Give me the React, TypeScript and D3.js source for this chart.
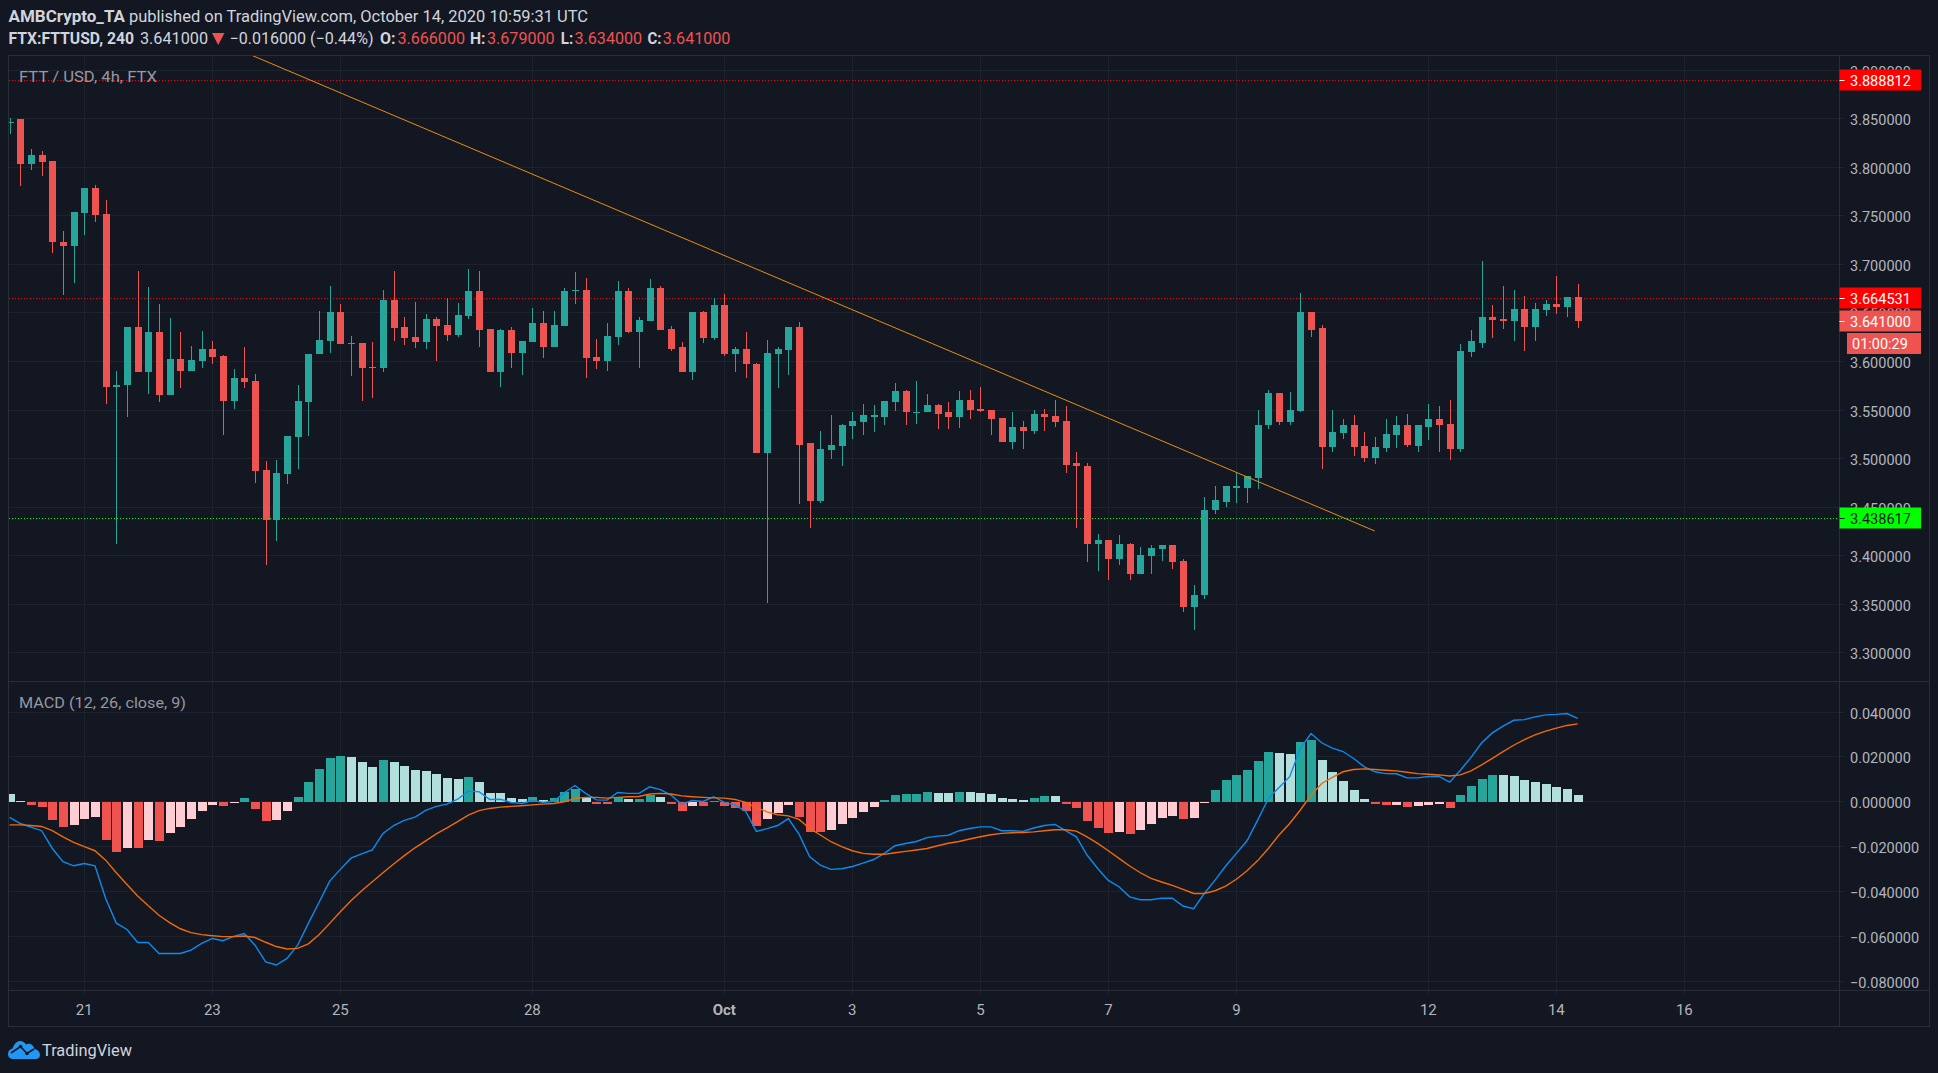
import * as d3 from 'd3';

// 4h candles, first one is Sep 19 20:00
const opens = [
  3.8449,3.8487,3.8024,3.8117,3.8055,3.7221,3.7180,3.7520,3.7777,3.7510,
  3.5737,3.5758,3.6355,3.5882,3.6303,3.5645,3.6025,3.5902,3.6005,3.6128,
  3.6056,3.5593,3.5820,3.5789,3.4873,3.4359,3.4832,3.5213,3.5583,3.6067,
  3.6211,3.6509,3.6180,3.6190,3.5943,3.5923,3.6633,3.6355,3.6252,3.6200,
  3.6437,3.6375,3.6272,3.6468,3.6725,3.6334,3.5882,3.6324,3.6087,3.6200,
  3.6396,3.6139,3.6365,3.6725,3.6735,3.6046,3.6005,3.6252,3.6725,3.6303,
  3.6416,3.6756,3.6334,3.6139,3.5882,3.6509,3.6241,3.6581,3.6067,3.6128,
  3.5974,3.5048,3.6077,3.6118,3.6355,3.5151,3.4554,3.5079,3.5130,3.5326,
  3.5377,3.5428,3.5428,3.5583,3.5696,3.5470,3.5480,3.5552,3.5470,3.5428,
  3.5603,3.5510,3.5500,3.5418,3.5171,3.5325,3.5284,3.5459,3.5438,3.5387,
  3.4945,3.4924,3.4121,3.4162,3.3957,3.4111,3.3802,3.3988,3.4060,3.4101,
  3.3936,3.3463,3.3586,3.4461,3.4553,3.4697,3.4697,3.4800,3.5336,3.5675,
  3.5377,3.5490,3.6509,3.6344,3.5119,3.5263,3.5346,3.5130,3.5006,3.5109,
  3.5243,3.5336,3.5130,3.5325,3.5408,3.5356,3.5089,3.6088,3.6190,3.6458,
  3.6437,3.6407,3.6540,3.6355,3.6530,3.6582,3.6551,3.6660,
];
const highs = [
  3.8497,3.8487,3.8178,3.8158,3.8055,3.7335,3.7530,3.7777,3.7808,3.7654,
  3.5902,3.6355,3.6931,3.6766,3.6591,3.6447,3.6303,3.6159,3.6313,3.6211,
  3.6066,3.5922,3.6149,3.5871,3.4966,3.4976,3.5223,3.5758,3.6077,3.6519,
  3.6777,3.6591,3.6262,3.6190,3.6200,3.6735,3.6931,3.6457,3.6612,3.6488,
  3.6457,3.6653,3.6602,3.6951,3.6931,3.6334,3.6334,3.6355,3.6211,3.6550,
  3.6519,3.6519,3.6756,3.6921,3.6859,3.6231,3.6396,3.6828,3.6756,3.6457,
  3.6848,3.6777,3.6365,3.6200,3.6509,3.6519,3.6653,3.6694,3.6149,3.6303,
  3.5984,3.6221,3.6149,3.6355,3.6406,3.5151,3.5284,3.5439,3.5356,3.5470,
  3.5562,3.5552,3.5593,3.5778,3.5706,3.5789,3.5665,3.5562,3.5583,3.5696,
  3.5706,3.5737,3.5500,3.5418,3.5480,3.5387,3.5500,3.5510,3.5603,3.5541,
  3.5058,3.4945,3.4214,3.4162,3.4204,3.4131,3.4090,3.4101,3.4101,3.4101,
  3.3957,3.3689,3.4605,3.4718,3.4718,3.4852,3.4821,3.5500,3.5706,3.5675,
  3.5685,3.6705,3.6509,3.6375,3.5500,3.5408,3.5449,3.5274,3.5222,3.5408,
  3.5438,3.5459,3.5346,3.5562,3.5541,3.5594,3.6180,3.6324,3.7034,3.6581,
  3.6767,3.6726,3.6674,3.6602,3.6633,3.6880,3.6664,3.6790,
];
const lows = [
  3.8333,3.7801,3.7962,3.7901,3.7108,3.6676,3.6799,3.7293,3.7431,3.5562,
  3.4112,3.5428,3.5882,3.5665,3.5583,3.5645,3.5727,3.5902,3.5933,3.5964,
  3.5243,3.5501,3.5727,3.4739,3.3895,3.4143,3.4729,3.4883,3.5223,3.6067,
  3.6087,3.6180,3.5850,3.5593,3.5614,3.5882,3.6211,3.6169,3.6138,3.6128,
  3.6005,3.6211,3.6252,3.6437,3.6149,3.5882,3.5737,3.5933,3.5861,3.6200,
  3.6036,3.6139,3.6365,3.6591,3.5830,3.5922,3.5902,3.6169,3.6293,3.5933,
  3.6416,3.6324,3.6108,3.5882,3.5809,3.6190,3.6221,3.6056,3.5882,3.5820,
  3.5048,3.3504,3.5727,3.5861,3.4523,3.4276,3.4533,3.4986,3.4914,3.5192,
  3.5243,3.5274,3.5346,3.5490,3.5336,3.5356,3.5480,3.5305,3.5305,3.5315,
  3.5398,3.5480,3.5243,3.5161,3.5099,3.5089,3.5253,3.5284,3.5325,3.4842,
  3.4276,3.3926,3.3843,3.3741,3.3895,3.3741,3.3802,3.3802,3.3946,3.3854,
  3.3421,3.3226,3.3545,3.4420,3.4492,3.4533,3.4543,3.4687,3.5305,3.5336,
  3.5336,3.5480,3.6252,3.4883,3.5058,3.5202,3.5027,3.4965,3.4944,3.5068,
  3.5109,3.5119,3.5058,3.5191,3.5068,3.4976,3.5059,3.6046,3.6129,3.6232,
  3.6334,3.6201,3.6098,3.6201,3.6468,3.6489,3.6448,3.6340,
];
const closes = [
  3.8463,3.8024,3.8117,3.8045,3.7221,3.7180,3.7530,3.7777,3.7499,3.5737,
  3.5758,3.6355,3.5882,3.6303,3.5645,3.6025,3.5902,3.6015,3.6128,3.6046,
  3.5593,3.5830,3.5779,3.4863,3.4359,3.4842,3.5223,3.5593,3.6077,3.6221,
  3.6509,3.6180,3.6190,3.5933,3.5923,3.6633,3.6344,3.6241,3.6200,3.6437,
  3.6365,3.6272,3.6478,3.6725,3.6324,3.5882,3.6324,3.6087,3.6211,3.6396,
  3.6139,3.6375,3.6725,3.6735,3.6036,3.6005,3.6262,3.6725,3.6303,3.6427,
  3.6756,3.6324,3.6128,3.5882,3.6509,3.6241,3.6581,3.6067,3.6128,3.5964,
  3.5048,3.6087,3.6128,3.6355,3.5140,3.4554,3.5089,3.5140,3.5336,3.5387,
  3.5439,3.5439,3.5593,3.5696,3.5470,3.5480,3.5552,3.5459,3.5428,3.5603,
  3.5500,3.5490,3.5408,3.5171,3.5325,3.5284,3.5459,3.5428,3.5377,3.4934,
  3.4914,3.4121,3.4162,3.3957,3.4111,3.3802,3.3998,3.4070,3.4101,3.3926,
  3.3463,3.3596,3.4471,3.4564,3.4708,3.4708,3.4811,3.5346,3.5675,3.5377,
  3.5500,3.6509,3.6324,3.5119,3.5274,3.5346,3.5119,3.5006,3.5119,3.5253,
  3.5336,3.5140,3.5336,3.5408,3.5346,3.5089,3.6098,3.6201,3.6458,3.6427,
  3.6407,3.6540,3.6355,3.6540,3.6582,3.6551,3.6664,3.6410,
];

const histogram = [
  .0033,.0003,-.0016,-.0025,-.0083,-.0114,-.0105,-.0079,-.0070,-.0172,
  -.0225,-.0206,-.0207,-.0172,-.0176,-.0141,-.0114,-.0079,-.0043,-.0016,
  -.0021,-.0004,.0015,-.0034,-.0087,-.0083,-.0043,.0019,.0086,.0144,
  .0193,.0201,.0197,.0175,.0153,.0184,.0175,.0157,.0139,.0135,
  .0121,.0104,.0099,.0108,.0086,.0037,.0036,.0015,.0010,.0019,
  .0006,.0015,.0041,.0055,.0019,-.0012,-.0013,.0019,.0010,.0011,
  .0028,.0019,-.0012,-.0043,-.0021,-.0022,.0003,-.0021,-.0030,-.0043,
  -.0110,-.0079,-.0052,-.0016,-.0070,-.0136,-.0137,-.0127,-.0101,-.0074,
  -.0047,-.0025,.0006,.0028,.0033,.0033,.0041,.0037,.0036,.0041,
  .0040,.0039,.0033,.0015,.0010,.0006,.0015,.0024,.0023,-.0012,
  -.0030,-.0087,-.0119,-.0141,-.0136,-.0145,-.0127,-.0101,-.0074,-.0065,
  -.0079,-.0074,-.0007,.0050,.0095,.0117,.0139,.0179,.0219,.0215,
  .0210,.0264,.0273,.0184,.0130,.0090,.0050,.0010,-.0012,-.0016,
  -.0015,-.0025,-.0021,-.0016,-.0012,-.0030,.0028,.0068,.0099,.0117,
  .0116,.0113,.0095,.0086,.0077,.0064,.0055,.0028,
];
const macdLine = [
  -.0071,-.0098,-.0114,-.0130,-.0209,-.0268,-.0286,-.0276,-.0286,-.0431,
  -.0541,-.0569,-.0627,-.0627,-.0676,-.0676,-.0676,-.0661,-.0631,-.0609,
  -.0619,-.0600,-.0587,-.0639,-.0713,-.0727,-.0698,-.0639,-.0542,-.0449,
  -.0354,-.0302,-.0252,-.0233,-.0215,-.0142,-.0107,-.0084,-.0070,-.0040,
  -.0022,-.0012,.0010,.0046,.0043,.0009,.0010,-.0004,-.0009,.0004,
  -.0004,.0001,.0039,.0071,.0036,.0007,.0006,.0040,.0036,.0036,
  .0065,.0053,.0028,-.0012,.0004,0,.0021,-.0004,-.0016,-.0043,
  -.0133,-.0121,-.0107,-.0076,-.0145,-.0246,-.0283,-.0302,-.0299,-.0289,
  -.0274,-.0258,-.0231,-.0197,-.0187,-.0178,-.0161,-.0154,-.0150,-.0130,
  -.0120,-.0113,-.0113,-.0130,-.0130,-.0133,-.0118,-.0107,-.0102,-.0130,
  -.0157,-.0238,-.0298,-.0351,-.0379,-.0424,-.0437,-.0437,-.0430,-.0430,
  -.0465,-.0477,-.0409,-.0350,-.0287,-.0231,-.0175,-.0083,.0013,.0062,
  .0110,.0236,.0302,.0261,.0237,.0222,.0191,.0154,.0132,.0124,
  .0123,.0105,.0105,.0111,.0111,.0086,.0139,.0196,.0261,.0305,
  .0335,.0361,.0364,.0376,.0385,.0387,.0391,.0369,
];
const signalLine = [
  -.0104,-.0104,-.0107,-.0111,-.0130,-.0157,-.0182,-.0201,-.0219,-.0261,
  -.0317,-.0369,-.0420,-.0464,-.0506,-.0539,-.0566,-.0583,-.0592,-.0597,
  -.0601,-.0601,-.0598,-.0605,-.0626,-.0645,-.0656,-.0653,-.0633,-.0593,
  -.0542,-.0490,-.0441,-.0397,-.0357,-.0317,-.0278,-.0241,-.0206,-.0175,
  -.0144,-.0117,-.0090,-.0061,-.0041,-.0031,-.0025,-.0022,-.0019,-.0015,
  -.0012,-.0009,-.0001,.0013,.0018,.0018,.0015,.0018,.0021,.0022,
  .0033,.0036,.0033,.0025,.0021,.0018,.0016,.0015,.0009,-.0004,
  -.0027,-.0046,-.0059,-.0064,-.0080,-.0120,-.0149,-.0179,-.0201,-.0219,
  -.0231,-.0235,-.0235,-.0228,-.0222,-.0216,-.0209,-.0197,-.0186,-.0178,
  -.0167,-.0157,-.0148,-.0142,-.0139,-.0138,-.0135,-.0130,-.0126,-.0126,
  -.0132,-.0157,-.0186,-.0219,-.0253,-.0287,-.0317,-.0342,-.0358,-.0373,
  -.0391,-.0409,-.0409,-.0397,-.0376,-.0346,-.0308,-.0263,-.0209,-.0149,
  -.0098,-.0038,.0028,.0080,.0107,.0132,.0142,.0145,.0142,.0139,
  .0136,.0130,.0124,.0121,.0118,.0113,.0118,.0136,.0163,.0192,
  .0222,.0250,.0275,.0296,.0313,.0326,.0338,.0345,
];

// axis labels, bar index for each date label
const dateLabels = ['21', '23', '25', '28', 'Oct', '3', '5', '7', '9', '12', '14', '16'];
const dateBars = [7, 19, 31, 49, 67, 79, 91, 103, 115, 133, 145, 157];
const priceTicks = [3.3, 3.35, 3.4, 3.45, 3.5, 3.55, 3.6, 3.65, 3.7, 3.75, 3.8, 3.85, 3.9];
const macdTicks = [-0.08, -0.06, -0.04, -0.02, 0, 0.02, 0.04];

// trendline anchors (bar index, price)
const trendBars = [22.53, 127.97];
const trendPrices = [3.9155, 3.425];

const resistance = 3.888812;
const resistance2 = 3.664531;
const support = 3.438617;
const lastClose = 3.641;

const UP = '#26a69a';
const DOWN = '#ef5350';
const BG = '#131722';
const GRID = '#1e222d';
const BORDER = '#2a2e39';
const AXIS_TEXT = '#b2b5be';
const FONT = 'Roboto, "Noto Sans", sans-serif';

const W = 1938;
const H = 1073;
const left = 8.5;
const right = 1839.5;
const outer = 1929.5;
const top = 55.5;
const divider = 681.5;
const axisY = 990.5;
const bottom = 1026.5;

const x = d3.scaleLinear().domain([0, 147]).range([9.64, 1577.7]);
const y = d3.scaleLinear().domain([3.3, 3.9]).range([652.4, 69.6]);
const ym = d3.scaleLinear().domain([-0.08, 0.04]).range([981.4, 711.5]);

const minus = (s: string) => s.replace('-', '\u2212');

function histColor(i: number) {
  const h = histogram[i];
  const prev = i > 0 ? histogram[i - 1] : Infinity;
  if (h >= 0) return h >= prev ? UP : '#b2dfdb';
  return h < prev ? DOWN : '#ffcdd2';
}

function PriceTag({ value, text, fill, color }: { value: number; text: string; fill: string; color: string }) {
  const cy = Math.round(y(value));
  return (
    <g>
      <rect x={right} y={cy - 10.5} width={81.5} height={21} fill={fill} />
      <rect x={right} y={cy} width={5} height={1} fill={color} />
      <text x={1850} y={cy + 5.5} fill={color} fontSize={14.5} fontFamily={FONT}>{text}</text>
    </g>
  );
}

export default function App() {
  const macdPath = d3.line<number>().x((_, i) => x(i)).y(d => ym(d));
  const trendPath = d3.line<number>().x((_, i) => x(trendBars[i])).y(d => y(d));

  return (
    <svg width={W} height={H} style={{ position: 'fixed', left: 0, top: 0, display: 'block', background: BG }}>
      <defs>
        <clipPath id="main"><rect x={left} y={top} width={right - left} height={divider - top} /></clipPath>
        <clipPath id="lower"><rect x={left} y={divider} width={right - left} height={axisY - divider} /></clipPath>
      </defs>
      <rect width={W} height={H} fill={BG} />

      {/* grid */}
      <g shapeRendering="crispEdges">
        {priceTicks.map(t => (
          <line key={t} x1={left} x2={1845} y1={Math.round(y(t)) + 0.5} y2={Math.round(y(t)) + 0.5} stroke={GRID} />
        ))}
        {macdTicks.map(t => (
          <line key={t} x1={left} x2={1845} y1={Math.round(ym(t)) + 0.5} y2={Math.round(ym(t)) + 0.5} stroke={GRID} />
        ))}
        {dateBars.map(b => (
          <line key={b} x1={Math.round(x(b)) + 0.5} x2={Math.round(x(b)) + 0.5} y1={top} y2={axisY + 5} stroke={GRID} />
        ))}
      </g>

      {/* horizontal levels */}
      <g shapeRendering="crispEdges" strokeDasharray="1 2">
        <line x1={left} x2={right} y1={Math.round(y(resistance)) + 0.5} y2={Math.round(y(resistance)) + 0.5} stroke="#ff0000" />
        <line x1={left} x2={right} y1={Math.round(y(resistance2)) + 0.5} y2={Math.round(y(resistance2)) + 0.5} stroke="#ff0000" />
        <line x1={left} x2={right} y1={Math.round(y(support)) + 0.5} y2={Math.round(y(support)) + 0.5} stroke="#00ff00" />
      </g>

      {/* candles */}
      <g clipPath="url(#main)" shapeRendering="crispEdges">
        {closes.map((c, i) => {
          const fill = c >= opens[i] ? UP : DOWN;
          const cx = Math.round(x(i));
          const yo = Math.round(y(opens[i]));
          const yc = Math.round(y(c));
          return (
            <g key={i} fill={fill}>
              <rect x={cx} y={Math.round(y(highs[i]))} width={1} height={Math.max(1, Math.round(y(lows[i])) - Math.round(y(highs[i])))} />
              <rect x={cx - 3} y={Math.min(yo, yc)} width={7} height={Math.max(1, Math.abs(yo - yc))} />
            </g>
          );
        })}
      </g>

      <path
        clipPath="url(#main)"
        d={trendPath(trendPrices) as string}
        fill="none"
        stroke="#e88f0c"
        strokeWidth={1}
      />

      {/* MACD */}
      <g clipPath="url(#lower)">
        <g shapeRendering="crispEdges">
          {histogram.map((h, i) => {
            const y0 = Math.round(ym(0)) + 1;
            const yv = Math.round(ym(h));
            return (
              <rect
                key={i}
                x={Math.round(x(i)) - 4}
                y={Math.min(y0, yv)}
                width={9}
                height={Math.max(1, Math.abs(y0 - yv))}
                fill={histColor(i)}
              />
            );
          })}
        </g>
        <path d={macdPath(macdLine) as string} fill="none" stroke="#0a8cf0" strokeWidth={1.4} />
        <path d={macdPath(signalLine) as string} fill="none" stroke="#f06a0a" strokeWidth={1.4} />
      </g>

      {/* frame */}
      <g stroke={BORDER} shapeRendering="crispEdges" fill="none">
        <rect x={left} y={top} width={outer - left} height={bottom - top} />
        <line x1={left} x2={outer} y1={divider} y2={divider} />
        <line x1={left} x2={outer} y1={axisY} y2={axisY} />
        <line x1={right} x2={right} y1={top} y2={bottom} />
      </g>

      {/* axes */}
      <g fill={AXIS_TEXT} fontSize={14.5} fontFamily={FONT}>
        {priceTicks.map(t => (
          <text key={t} x={1850} y={Math.round(y(t)) + 6.5}>{t.toFixed(6)}</text>
        ))}
        {macdTicks.map(t => (
          <text key={t} x={1850} y={Math.round(ym(t)) + 6.5}>{minus(t.toFixed(6))}</text>
        ))}
        {dateLabels.map((d, i) => (
          <text
            key={d}
            x={x(dateBars[i])}
            y={1015}
            textAnchor="middle"
            fontSize={15}
            fontWeight={d === 'Oct' ? 700 : 400}
          >
            {d}
          </text>
        ))}
      </g>

      <PriceTag value={resistance} text={resistance.toFixed(6)} fill="#ff0000" color="#ffffff" />
      <PriceTag value={resistance2} text={resistance2.toFixed(6)} fill="#ff0000" color="#ffffff" />
      <PriceTag value={lastClose} text={lastClose.toFixed(6)} fill={DOWN} color="#ffffff" />
      <rect x={1847} y={333} width={74} height={21} fill={DOWN} />
      <text x={1852} y={349} fill="#ffffff" fontSize={14.5} fontFamily={FONT}>01:00:29</text>
      <PriceTag value={support} text={support.toFixed(6)} fill="#00ff00" color={BG} />

      {/* pane titles */}
      <text x={19} y={82} fill="#9598a1" fontSize={15} fontFamily={FONT} textLength={138} lengthAdjust="spacingAndGlyphs">
        FTT / USD, 4h, FTX
      </text>
      <text x={19} y={708} fill="#9598a1" fontSize={15} fontFamily={FONT} textLength={167} lengthAdjust="spacingAndGlyphs">
        MACD (12, 26, close, 9)
      </text>

      {/* header */}
      <g fontSize={16} fontFamily={FONT} fill="#d1d4dc">
        <text x={8.5} y={22} fontWeight={700} textLength={116.5} lengthAdjust="spacingAndGlyphs">AMBCrypto_TA</text>
        <text x={129} y={22} textLength={459} lengthAdjust="spacingAndGlyphs">published on TradingView.com, October 14, 2020 10:59:31 UTC</text>
        <text x={8.5} y={44} fontWeight={700} textLength={125.5} lengthAdjust="spacingAndGlyphs">FTX:FTTUSD, 240</text>
        <text x={140} y={44} textLength={68} lengthAdjust="spacingAndGlyphs">3.641000</text>
        <path d={d3.line()([[212, 33], [224.5, 33], [218.2, 45]]) + 'Z'} fill={DOWN} />
        <text x={229.5} y={44} textLength={144} lengthAdjust="spacingAndGlyphs">{'\u22120.016000 (\u22120.44%)'}</text>
        <text x={380} y={44} fontWeight={700} textLength={15.5} lengthAdjust="spacingAndGlyphs">O:</text>
        <text x={397.4} y={44} fill={DOWN} textLength={67.6} lengthAdjust="spacingAndGlyphs">3.666000</text>
        <text x={470} y={44} fontWeight={700} textLength={15.5} lengthAdjust="spacingAndGlyphs">H:</text>
        <text x={487} y={44} fill={DOWN} textLength={67.6} lengthAdjust="spacingAndGlyphs">3.679000</text>
        <text x={560.7} y={44} fontWeight={700} textLength={12.5} lengthAdjust="spacingAndGlyphs">L:</text>
        <text x={574.5} y={44} fill={DOWN} textLength={67.6} lengthAdjust="spacingAndGlyphs">3.634000</text>
        <text x={647.5} y={44} fontWeight={700} textLength={14} lengthAdjust="spacingAndGlyphs">C:</text>
        <text x={662.8} y={44} fill={DOWN} textLength={67.6} lengthAdjust="spacingAndGlyphs">3.641000</text>
      </g>

      {/* logo */}
      <g transform="translate(8,1040)">
        <path
          d="M5 19C1.5 19 0 16.5 0 14C0 11 2 9 4.5 8.5C6 4 9 1 12 1C15 1 17 3 18 4.5C19.5 3.5 21 3.5 22.5 4C25 5 26 7 26.5 9C29.5 9.5 32 12 32 15C32 17.5 30 19 28 19Z"
          fill="#2196f3"
        />
        <path d="M3 13L12.5 6.5L19 13.5L26 9" fill="none" stroke={BG} strokeWidth={1.6} />
        <circle cx={12.5} cy={6.5} r={1.8} fill={BG} />
        <circle cx={19} cy={13.5} r={1.8} fill={BG} />
      </g>
      <text x={42} y={1056} fill="#d1d4dc" fontSize={17} fontFamily={FONT} textLength={90} lengthAdjust="spacingAndGlyphs">TradingView</text>
    </svg>
  );
}
